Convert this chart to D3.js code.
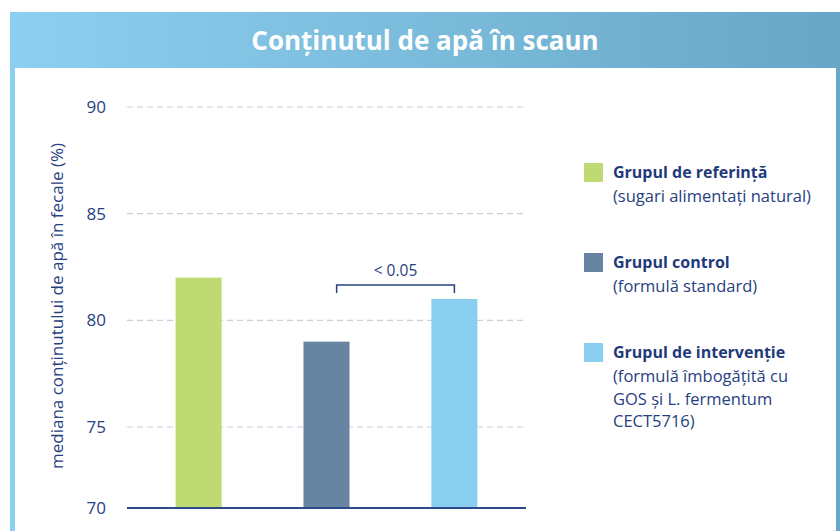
<!DOCTYPE html>
<html>
<head>
<meta charset="utf-8">
<script src="https://cdn.jsdelivr.net/npm/d3@7"></script>
<style>
  body { margin: 0; background: #fff; }
  text { font-family: 'Open Sans', 'Noto Sans', sans-serif; }
</style>
</head>
<body>
<div id="chart"></div>
<script>
// data
var groups = ['Grupul de referință', 'Grupul control', 'Grupul de intervenție'];
var notes = [
  ['(sugari alimentați natural)'],
  ['(formulă standard)'],
  ['(formulă îmbogățită cu', 'GOS și L. fermentum', 'CECT5716)']
];
var values = [82, 79, 81];
var colors = ['#bfd973', '#6784a2', '#8bcff0'];
var yTicks = [70, 75, 80, 85, 90];
var pLabel = '< 0.05';

var width = 840;
var height = 531;
var navy = '#27417f';

var svg = d3.select('#chart').append('svg')
  .attr('width', width)
  .attr('height', height);

// header gradient
var defs = svg.append('defs');
var grad = defs.append('linearGradient').attr('id', 'hdr');
grad.append('stop').attr('offset', '0%').attr('stop-color', '#8dcff1');
grad.append('stop').attr('offset', '100%').attr('stop-color', '#68a7c5');

svg.append('rect')
  .attr('x', 10).attr('y', 68).attr('width', 5).attr('height', height - 68)
  .attr('fill', '#8dcff1');
svg.append('rect')
  .attr('x', 836).attr('y', 68).attr('width', 4).attr('height', height - 68)
  .attr('fill', '#68a7c5');
svg.append('rect')
  .attr('x', 10).attr('y', 12).attr('width', width - 10).attr('height', 56)
  .attr('fill', 'url(#hdr)');
svg.append('text')
  .attr('x', 425).attr('y', 50)
  .attr('text-anchor', 'middle')
  .attr('fill', '#fff')
  .style('font-size', '26px')
  .style('font-weight', 700)
  .text('Conținutul de apă în scaun');

// scales (axis starts broken: 70 sits closer to 75)
var y = d3.scaleLinear()
  .domain([70, 75, 90])
  .range([508, 427, 107]);

var x = d3.scaleBand()
  .domain(groups)
  .range([127, 526])
  .paddingInner(0.64)
  .paddingOuter(0.38);

var plot = svg.append('g');

// gridlines
plot.selectAll('line.grid')
  .data(yTicks.filter(function (d) { return d > 70; }))
  .enter().append('line')
  .attr('class', 'grid')
  .attr('x1', 127).attr('x2', 527)
  .attr('y1', function (d) { return y(d); })
  .attr('y2', function (d) { return y(d); })
  .attr('stroke', '#c9cfdd')
  .attr('stroke-width', 1.2)
  .attr('stroke-dasharray', '6,4');

// tick labels
plot.selectAll('text.tick')
  .data(yTicks)
  .enter().append('text')
  .attr('class', 'tick')
  .attr('x', 106)
  .attr('y', function (d) { return y(d); })
  .attr('dy', '0.36em')
  .attr('text-anchor', 'end')
  .attr('fill', navy)
  .style('font-size', '17px')
  .text(function (d) { return d; });

// bars
plot.selectAll('rect.bar')
  .data(values)
  .enter().append('rect')
  .attr('class', 'bar')
  .attr('x', function (d, i) { return x(groups[i]); })
  .attr('width', x.bandwidth())
  .attr('y', function (d) { return y(d); })
  .attr('height', function (d) { return y(70) - y(d); })
  .attr('fill', function (d, i) { return colors[i]; });

// baseline
plot.append('line')
  .attr('x1', 127).attr('x2', 526)
  .attr('y1', y(70)).attr('y2', y(70))
  .attr('stroke', '#2a4a8a')
  .attr('stroke-width', 2);

// y axis title
svg.append('text')
  .attr('transform', 'translate(63,306) rotate(-90)')
  .attr('text-anchor', 'middle')
  .attr('fill', navy)
  .style('font-size', '17px')
  .text('mediana conținutului de apă în fecale (%)');

// significance bracket
var bx1 = x(groups[1]) + x.bandwidth() * 0.72;
var bx2 = x(groups[2]) + x.bandwidth() / 2;
var by = 285;
svg.append('path')
  .attr('d', 'M' + bx1 + ',' + (by + 8) + 'V' + by + 'H' + bx2 + 'V' + (by + 8))
  .attr('fill', 'none')
  .attr('stroke', navy)
  .attr('stroke-width', 1.5);
svg.append('text')
  .attr('x', (bx1 + bx2) / 2).attr('y', 276)
  .attr('text-anchor', 'middle')
  .attr('fill', navy)
  .style('font-size', '15.5px')
  .text(pLabel);

// legend
var legendY = [163, 253, 343];
var legend = svg.selectAll('g.legend')
  .data(groups)
  .enter().append('g')
  .attr('class', 'legend')
  .attr('transform', function (d, i) { return 'translate(584,' + legendY[i] + ')'; });

legend.append('rect')
  .attr('width', 19).attr('height', 19)
  .attr('fill', function (d, i) { return colors[i]; });

legend.append('text')
  .attr('x', 29).attr('y', 15)
  .attr('fill', '#1f3a7a')
  .style('font-size', '16px')
  .style('font-weight', 700)
  .text(function (d) { return d; });

legend.each(function (d, i) {
  d3.select(this).selectAll('text.note')
    .data(notes[i])
    .enter().append('text')
    .attr('class', 'note')
    .attr('x', 29)
    .attr('y', function (n, j) { return 39 + j * 22.5; })
    .attr('fill', navy)
    .style('font-size', '16.5px')
    .text(function (n) { return n; });
});
</script>
</body>
</html>
